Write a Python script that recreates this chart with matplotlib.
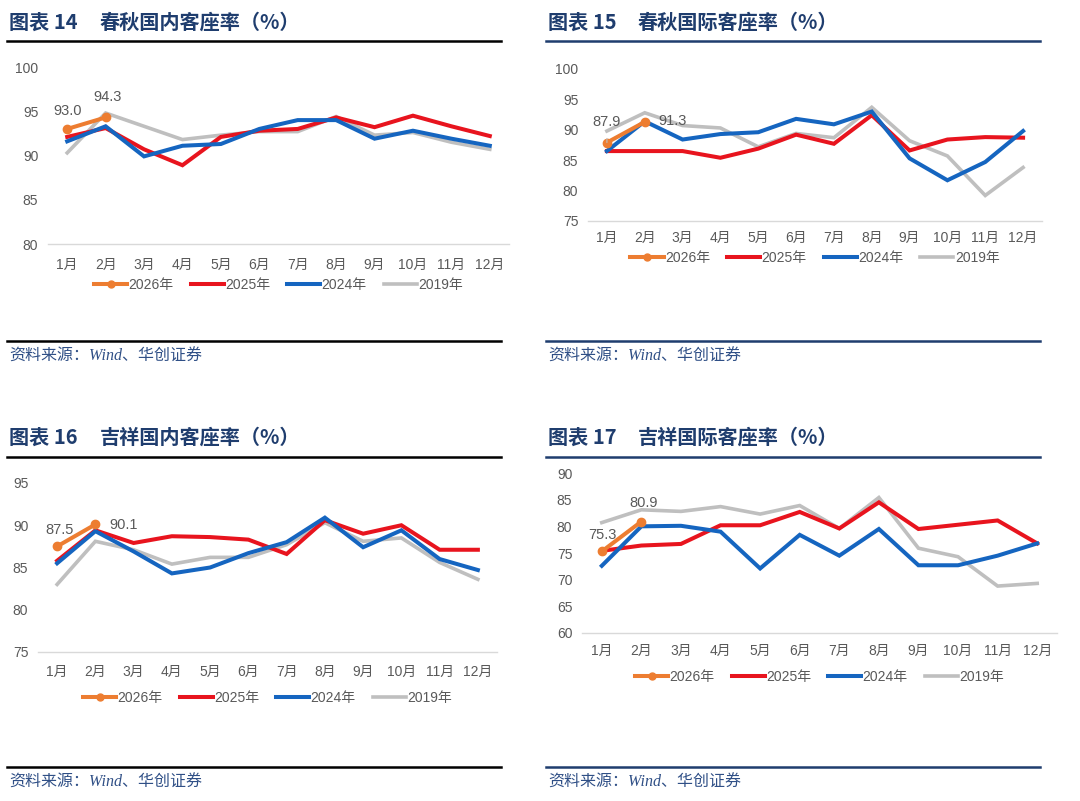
import matplotlib
matplotlib.use("Agg")
import matplotlib.pyplot as plt
from matplotlib.lines import Line2D

plt.rcParams['font.family'] = ['Liberation Sans', 'Noto Sans CJK SC', 'DejaVu Sans']

months = ['1月', '2月', '3月', '4月', '5月', '6月', '7月', '8月', '9月', '10月', '11月', '12月']
series_names = ['2026年', '2025年', '2024年', '2019年']

# 图表14 春秋国内客座率
cq_dom_2026 = [93.0, 94.3]
cq_dom_2025 = [92.1, 93.1, 90.7, 88.9, 92.1, 92.8, 93.0, 94.3, 93.2, 94.5, 93.3, 92.2]
cq_dom_2024 = [91.6, 93.3, 89.9, 91.1, 91.3, 93.0, 94.0, 94.0, 91.9, 92.8, 91.9, 91.1]
cq_dom_2019 = [90.3, 94.8, 93.3, 91.8, 92.3, 92.7, 92.7, 94.4, 92.3, 92.6, 91.5, 90.7]

# 图表15 春秋国际客座率
cq_int_2026 = [87.9, 91.3]
cq_int_2025 = [86.5, 86.5, 86.5, 85.4, 86.9, 89.2, 87.7, 92.4, 86.6, 88.4, 88.8, 88.7]
cq_int_2024 = [86.5, 91.4, 88.4, 89.3, 89.6, 91.8, 90.9, 93.0, 85.3, 81.7, 84.7, 89.8]
cq_int_2019 = [89.8, 92.8, 90.7, 90.3, 87.2, 89.4, 88.7, 93.7, 88.2, 85.7, 79.2, 83.8]

# 图表16 吉祥国内客座率
jx_dom_2026 = [87.5, 90.1]
jx_dom_2025 = [85.8, 89.4, 87.9, 88.7, 88.6, 88.3, 86.6, 90.6, 89.0, 90.0, 87.1, 87.1]
jx_dom_2024 = [85.5, 89.3, 86.9, 84.3, 85.0, 86.7, 88.0, 90.9, 87.4, 89.4, 86.0, 84.7]
jx_dom_2019 = [83.0, 88.1, 87.1, 85.4, 86.2, 86.2, 87.7, 90.3, 88.1, 88.5, 85.6, 83.6]

# 图表17 吉祥国际客座率
jx_int_2026 = [75.3, 80.9]
jx_int_2025 = [75.4, 76.4, 76.7, 80.2, 80.2, 82.7, 79.6, 84.5, 79.5, 80.3, 81.1, 76.8]
jx_int_2024 = [72.6, 80.0, 80.1, 79.0, 72.1, 78.4, 74.5, 79.5, 72.7, 72.7, 74.5, 76.8]
jx_int_2019 = [80.7, 83.1, 82.8, 83.7, 82.3, 83.9, 79.6, 85.4, 75.9, 74.3, 68.8, 69.3]

C_ORANGE = '#ED7D31'
C_RED = '#E8141E'
C_BLUE = '#1565C0'
C_GRAY = '#BFBFBF'
C_TEXT = '#595959'
C_NAVY = '#1F3D6E'

W, H = 1080, 801
fig = plt.figure(figsize=(W / 100, H / 100), dpi=100)


def px_axes(x0, x1, y_top, y_bot):
    return fig.add_axes([x0 / W, 1 - y_bot / H, (x1 - x0) / W, (y_bot - y_top) / H])


panels = [
    dict(box=(48, 509, 67, 244), ylim=(80, 100), step=5,
         data=(cq_dom_2026, cq_dom_2025, cq_dom_2024, cq_dom_2019),
         lab_off=[(0, 13), (1.5, 14.5)], leader=False, xpad=10, leg_y=285),
    dict(box=(588, 1042, 69, 221), ylim=(75, 100), step=5,
         data=(cq_int_2026, cq_int_2025, cq_int_2024, cq_int_2019),
         lab_off=[(0, 15), (20, 0.5)], leader=True, xpad=7, leg_y=258),
    dict(box=(38, 497, 483, 652), ylim=(75, 95), step=5,
         data=(jx_dom_2026, jx_dom_2025, jx_dom_2024, jx_dom_2019),
         lab_off=[(2, 12), (20, -0.7)], leader=False, xpad=9, leg_y=698),
    dict(box=(582, 1057, 473, 633), ylim=(60, 90), step=5,
         data=(jx_int_2026, jx_int_2025, jx_int_2024, jx_int_2019),
         lab_off=[(0.7, 12), (1.5, 13)], leader=False, xpad=8, leg_y=677),
]

x = list(range(len(months)))
for p in panels:
    x0, x1, yt, yb = p['box']
    ax = px_axes(x0, x1, yt, yb)
    d26, d25, d24, d19 = p['data']
    ax.plot(x, d19, color=C_GRAY, lw=2.6, solid_joinstyle='miter', zorder=2)
    ax.plot(x, d24, color=C_BLUE, lw=2.9, solid_joinstyle='miter', zorder=3)
    ax.plot(x, d25, color=C_RED, lw=2.9, solid_joinstyle='miter', zorder=2.5)
    ax.plot(x[:len(d26)], d26, color=C_ORANGE, lw=2.9, marker='o', ms=6, zorder=4)
    for i, v in enumerate(d26):
        dx, dy = p['lab_off'][i]
        kw = {}
        if p['leader'] and i == 0:
            kw = dict(arrowprops=dict(arrowstyle='-', color=C_GRAY, lw=0.8, shrinkA=5, shrinkB=3))
        ax.annotate(f'{v:.1f}', (x[i], v), xytext=(dx, dy), textcoords='offset points',
                    ha='center', va='center', fontsize=10.5, color=C_TEXT, zorder=5, **kw)
    ax.set_xlim(-0.5, 11.5)
    lo, hi = p['ylim']
    ax.set_ylim(lo, hi)
    ax.set_yticks(list(range(lo, hi + 1, p['step'])))
    ax.set_xticks(x)
    ax.set_xticklabels(months)
    for s in ['top', 'right', 'left']:
        ax.spines[s].set_visible(False)
    ax.spines['bottom'].set_color('#D9D9D9')
    ax.spines['bottom'].set_linewidth(1.0)
    ax.tick_params(axis='both', length=0, colors=C_TEXT, labelsize=10)
    ax.tick_params(axis='y', pad=7)
    ax.tick_params(axis='x', pad=p['xpad'])
    ax.set_facecolor('none')
    handles = [Line2D([], [], color=C_ORANGE, lw=2.9, marker='o', ms=5, markevery=[1]),
               Line2D([], [], color=C_RED, lw=2.9),
               Line2D([], [], color=C_BLUE, lw=2.9),
               Line2D([], [], color=C_GRAY, lw=2.6)]
    cx = (x0 + x1) / 2 / W
    leg = fig.legend(handles, series_names, loc='center', bbox_to_anchor=(cx, 1 - p['leg_y'] / H),
                     ncol=4, frameon=False, fontsize=10, handlelength=2.4, handletextpad=0.1,
                     columnspacing=1.2, labelcolor=C_TEXT)

titles = [
    (9, 100, 22, '图表 14', '春秋国内客座率（%）'),
    (548, 638, 22, '图表 15', '春秋国际客座率（%）'),
    (9, 100, 437, '图表 16', '吉祥国内客座率（%）'),
    (548, 638, 437, '图表 17', '吉祥国际客座率（%）'),
]
for xa, xb, yy, a, b in titles:
    for xx, t in ((xa, a), (xb, b)):
        fig.text(xx / W, 1 - yy / H, t, ha='left', va='center', fontsize=14.5,
                 fontweight='bold', color=C_NAVY, family=['Noto Sans CJK SC', 'DejaVu Sans'])

rules = [
    (7, 501, 41, 'black'), (546, 1040, 41, C_NAVY),
    (7, 501, 341, 'black'), (546, 1040, 341, C_NAVY),
    (7, 501, 457, 'black'), (546, 1040, 457, C_NAVY),
    (7, 501, 767, 'black'), (546, 1040, 767, C_NAVY),
]
for xa, xb, yy, c in rules:
    fig.add_artist(Line2D([xa / W, xb / W], [1 - yy / H, 1 - yy / H], color=c, lw=1.8,
                          transform=fig.transFigure))

for xx, yy in ((9, 357), (548, 357), (9, 783), (548, 783)):
    fig.text(xx / W, 1 - yy / H, '资料来源：Wind、华创证券', ha='left', va='center',
             fontsize=11.5, style='italic', color='#2F4F86',
             family=['Liberation Serif', 'Noto Sans CJK SC', 'DejaVu Sans'])

fig.savefig('out.png', dpi=100)
